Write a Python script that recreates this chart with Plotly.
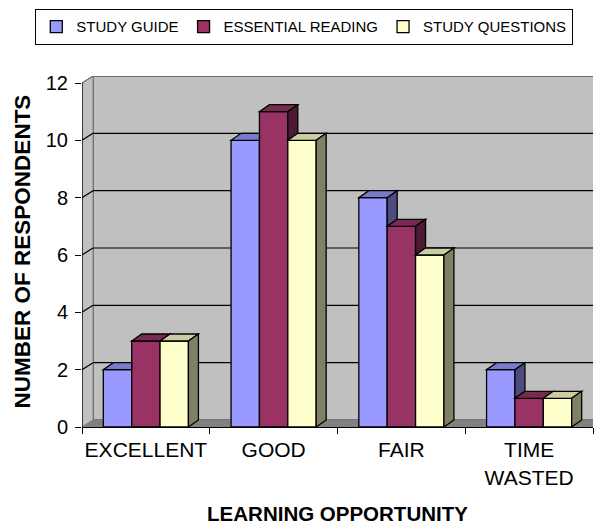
import plotly.graph_objects as go

# ---------------- data ----------------
categories = ["EXCELLENT", "GOOD", "FAIR", "TIME<br>WASTED"]
series_names = ["STUDY GUIDE", "ESSENTIAL READING", "STUDY QUESTIONS"]
study_guide = [2, 10, 8, 2]
essential_reading = [3, 11, 7, 1]
study_questions = [3, 10, 6, 1]
y_ticks = [0, 2, 4, 6, 8, 10, 12]

# ---------------- style ----------------
colors = ["#9999FF", "#993366", "#FFFFCC"]
FONT = "Arial, Liberation Sans, sans-serif"
FIG_W, FIG_H = 594, 525
ML, MR, MT, MB = 82, 1, 76, 98
PLOT_W = FIG_W - ML - MR
PLOT_H = FIG_H - MT - MB
YMAX = 12
X_RANGE = [-0.5, len(categories) - 0.5]
px_per_x = PLOT_W / (X_RANGE[1] - X_RANGE[0])
WALL_DX_PX, WALL_DY_PX = 11, 7
BAR_DX_PX, BAR_DY_PX = 10, 7
px_per_y = (PLOT_H - WALL_DY_PX) / YMAX
Y_RANGE = [0, YMAX + WALL_DY_PX / px_per_y]
wdx, wdy = WALL_DX_PX / px_per_x, WALL_DY_PX / px_per_y
bdx, bdy = BAR_DX_PX / px_per_x, BAR_DY_PX / px_per_y
BAR_W = 0.222
OFFSETS = [-1.5 * BAR_W, -0.5 * BAR_W, 0.5 * BAR_W]
LEGEND_LEFT_PX, LEGEND_TOP_PX = 35, 9


def shade(hexcol, f):
    h = hexcol.lstrip("#")
    r, g, b = (int(h[i:i + 2], 16) for i in (0, 2, 4))
    return "#%02X%02X%02X" % (round(r * f), round(g * f), round(b * f))


def poly(pts):
    return "M " + " L ".join(f"{x},{y}" for x, y in pts) + " Z"


series = [study_guide, essential_reading, study_questions]
xpos = list(range(len(categories)))

fig = go.Figure()
for name, vals, col, off in zip(series_names, series, colors, OFFSETS):
    fig.add_trace(go.Bar(
        x=xpos, y=vals, name=name, width=BAR_W, offset=off,
        marker=dict(color=col, line=dict(color="black", width=1.3)),
        hoverinfo="x+y+name",
    ))

shapes = []
x0w = X_RANGE[0]
top = Y_RANGE[1]
# back wall
shapes.append(dict(type="rect", xref="x", yref="y", layer="below",
                   x0=x0w + wdx, x1=X_RANGE[1] + 0.05, y0=wdy, y1=top,
                   fillcolor="#C0C0C0", line=dict(color="#6A6A6A", width=2)))
# left side wall
shapes.append(dict(type="path", xref="x", yref="y", layer="below",
                   path=poly([(x0w, 0), (x0w + wdx, wdy), (x0w + wdx, top), (x0w, YMAX)]),
                   fillcolor="#C0C0C0", line=dict(color="#808080", width=1)))
# floor
shapes.append(dict(type="path", xref="x", yref="y", layer="below",
                   path=poly([(x0w, 0), (X_RANGE[1], 0), (X_RANGE[1], wdy), (x0w + wdx, wdy)]),
                   fillcolor="#808080", line=dict(color="#808080", width=1)))
# gridlines on walls
for v in y_ticks[1:-1]:
    shapes.append(dict(type="line", xref="x", yref="y", layer="below",
                       x0=x0w + wdx, x1=X_RANGE[1], y0=v + wdy, y1=v + wdy,
                       line=dict(color="black", width=1.2)))
    shapes.append(dict(type="line", xref="x", yref="y", layer="below",
                       x0=x0w, x1=x0w + wdx, y0=v, y1=v + wdy,
                       line=dict(color="black", width=1.2)))
shapes.append(dict(type="line", xref="x", yref="y", layer="below",
                   x0=x0w, x1=x0w + wdx, y0=YMAX, y1=top,
                   line=dict(color="#606060", width=1)))
# y axis line
shapes.append(dict(type="line", xref="x", yref="y", layer="above",
                   x0=x0w, x1=x0w, y0=0, y1=YMAX,
                   line=dict(color="black", width=1.3)))

# 3D top and side faces of the bars
for c in xpos:
    for i, (vals, col, off) in enumerate(zip(series, colors, OFFSETS)):
        h = vals[c]
        hn = series[i + 1][c] if i + 1 < len(series) else 0
        xl = c + off
        xr = xl + BAR_W
        if i + 1 < len(series) and hn > h:
            top_pts = [(xl, h), (xr, h), (xr, h + bdy), (xl + bdx, h + bdy)]
        else:
            top_pts = [(xl, h), (xr, h), (xr + bdx, h + bdy), (xl + bdx, h + bdy)]
        shapes.append(dict(type="path", xref="x", yref="y", layer="above",
                           path=poly(top_pts), fillcolor=shade(col, 0.8),
                           line=dict(color="black", width=1.3)))
        if hn < h:
            side_pts = [(xr, h), (xr + bdx, h + bdy), (xr + bdx, hn + bdy), (xr, hn)]
            shapes.append(dict(type="path", xref="x", yref="y", layer="above",
                               path=poly(side_pts), fillcolor=shade(col, 0.5),
                               line=dict(color="black", width=1.3)))

fig.update_layout(
    width=FIG_W, height=FIG_H,
    margin=dict(l=ML, r=MR, t=MT, b=MB, autoexpand=False),
    paper_bgcolor="white", plot_bgcolor="rgba(0,0,0,0)",
    font=dict(family=FONT, color="black", size=20),
    barmode="overlay",
    shapes=shapes,
    showlegend=True,
    legend=dict(orientation="h", x=(LEGEND_LEFT_PX - ML) / PLOT_W, xanchor="left",
                y=(FIG_H - MB - LEGEND_TOP_PX) / PLOT_H, yanchor="top",
                bordercolor="black", borderwidth=1.3, bgcolor="white",
                font=dict(size=15, family=FONT), traceorder="normal",
                itemwidth=30),
    xaxis=dict(range=X_RANGE, tickvals=xpos, ticktext=categories,
               ticks="", showgrid=False, zeroline=False,
               showline=True, linecolor="black", linewidth=1.3,
               minor=dict(tick0=-0.5, dtick=1, ticks="outside", ticklen=6,
                          tickcolor="black", tickwidth=1.3, showgrid=False),
               tickfont=dict(size=21), ticklabelstandoff=4,
               title=dict(text="<b>LEARNING OPPORTUNITY</b>", font=dict(size=20.5),
                          standoff=22),
               fixedrange=True),
    yaxis=dict(range=Y_RANGE, tickvals=y_ticks, ticks="outside", ticklen=6,
               tickcolor="black", tickwidth=1.3, showgrid=False, zeroline=False,
               showline=False, tickfont=dict(size=20), ticklabelstandoff=3,
               title=dict(text="<b>NUMBER OF RESPONDENTS</b>", font=dict(size=22.5),
                          standoff=8),
               fixedrange=True),
)

fig.write_html("out.html", config={"displayModeBar": False},
               post_script="document.body.style.margin='0';")
